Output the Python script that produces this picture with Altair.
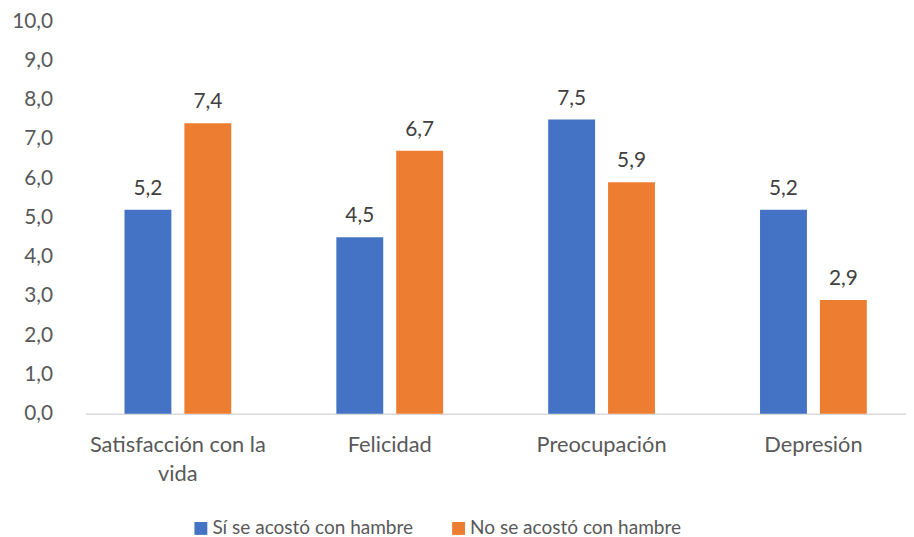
import altair as alt
import pandas as pd

categories = ["Satisfacción con la vida", "Felicidad", "Preocupación", "Depresión"]
series_names = ["Sí se acostó con hambre", "No se acostó con hambre"]
si_values = [5.2, 4.5, 7.5, 5.2]
no_values = [7.4, 6.7, 5.9, 2.9]
colors = ["#4472C4", "#ED7D31"]

rows = []
for c, a, b in zip(categories, si_values, no_values):
    rows.append({"cat": c, "serie": series_names[0], "valor": a})
    rows.append({"cat": c, "serie": series_names[1], "valor": b})
df = pd.DataFrame(rows)

FONT = "Lato"
FS = 21

base = alt.Chart(df).encode(
    x=alt.X("cat:N", sort=categories, title=None,
            scale=alt.Scale(paddingInner=0.496, paddingOuter=0.185),
            axis=alt.Axis(labelAngle=0, ticks=False, domainColor="#D9D9D9", domainWidth=1.5,
                          labelFont=FONT, labelFontSize=22, labelColor="#595959",
                          labelPadding=21, labelLineHeight=29, labelLimit=0,
                          labelExpr="datum.value == 'Satisfacción con la vida' ? ['Satisfacción con la', 'vida'] : datum.value")),
    xOffset=alt.XOffset("serie:N", sort=series_names,
                        scale=alt.Scale(paddingInner=0.217, paddingOuter=0)),
    y=alt.Y("valor:Q", title=None,
            scale=alt.Scale(domain=[0, 10], nice=False),
            axis=alt.Axis(values=list(range(0, 11)), grid=False, domain=False, ticks=False,
                          labelFont=FONT, labelFontSize=FS, labelColor="#595959",
                          labelPadding=33,
                          labelExpr="replace(format(datum.value, '.1f'), '.', ',')")),
)

bars = base.mark_bar().encode(
    color=alt.Color("serie:N", sort=series_names,
                    scale=alt.Scale(domain=series_names, range=colors),
                    legend=alt.Legend(title=None, orient="none", direction="horizontal",
                                      legendX=107, legendY=502, padding=0,
                                      symbolType="square", symbolSize=169, symbolStrokeWidth=0,
                                      labelFont=FONT, labelFontSize=19.2, labelColor="#595959",
                                      labelLimit=0, columnPadding=36, labelOffset=2))
)

text = base.mark_text(baseline="bottom", dy=-11, font=FONT, fontSize=FS, color="#404040").encode(
    text="label:N"
).transform_calculate(label="replace(format(datum.valor, '.1f'), '.', ',')")

chart = (bars + text).properties(
    width=828, height=396,
    padding={"left": 3, "top": 0, "right": 0, "bottom": 0}
).configure_view(stroke=None)

chart.save("out.html", embed_options={"renderer": "svg", "actions": False})
